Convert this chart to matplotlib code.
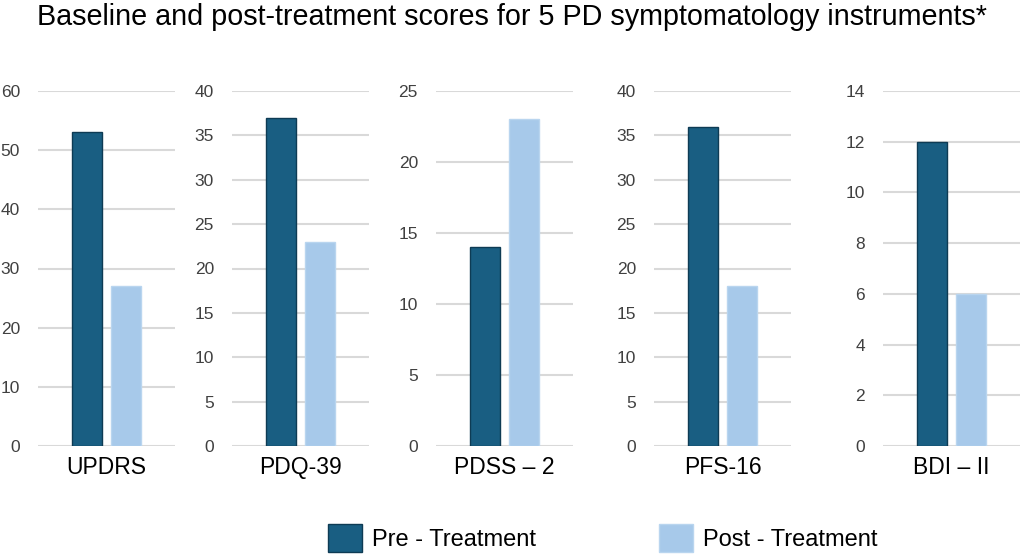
import matplotlib
matplotlib.use("Agg")
import matplotlib.pyplot as plt
from matplotlib.patches import Patch

plt.rcParams['font.family'] = ['Liberation Sans', 'DejaVu Sans']

# data
instruments = ["UPDRS", "PDQ-39", "PDSS – 2", "PFS-16", "BDI – II"]
pre_scores = [53, 37, 14, 36, 12]
post_scores = [27, 23, 23, 18, 6]
y_max = [60, 40, 25, 40, 14]
y_step = [10, 5, 5, 5, 2]
series_names = ["Pre - Treatment", "Post - Treatment"]

dark = "#195e82"
dark_edge = "#0e3b54"
light = "#a7c9ea"
light_edge = "#b9d5ef"

W, H = 1024, 559
fig = plt.figure(figsize=(W / 100, H / 100), dpi=100)

# axes placement in pixels (left edge of gridlines, width)
lefts = [38, 232, 436, 654, 883]
ax_w = 137
top_px, zero_px = 91, 446

for i, name in enumerate(instruments):
    ax = fig.add_axes([lefts[i] / W, (H - zero_px) / H, ax_w / W, (zero_px - top_px) / H])
    ax.bar(0, pre_scores[i], width=0.78, color=dark, edgecolor=dark_edge, linewidth=1, zorder=3)
    ax.bar(1, post_scores[i], width=0.78, color=light, edgecolor=light_edge, linewidth=1, zorder=3)
    ax.set_xlim(-1.25, 2.25)
    ax.set_ylim(0, y_max[i])
    ax.set_yticks(range(0, y_max[i] + 1, y_step[i]))
    ax.set_xticks([0.5])
    ax.set_xticklabels([name], fontsize=16.5, color="black")
    ax.tick_params(axis="y", length=0, pad=13, labelsize=12.5, labelcolor="#404040")
    ax.tick_params(axis="x", length=0, pad=7)
    ax.yaxis.grid(True, color="#d9d9d9", linewidth=1.5, zorder=0)
    ax.set_axisbelow(True)
    for s in ax.spines.values():
        s.set_visible(False)

fig.text(0.5, 1 - 3 / H, "Baseline and post-treatment scores for 5 PD symptomatology instruments*",
         ha="center", va="top", fontsize=20.7, color="black")

handles = [Patch(facecolor=dark, edgecolor=dark_edge, label=series_names[0]),
           Patch(facecolor=light, edgecolor=light_edge, label=series_names[1])]
fig.legend(handles=handles, loc="center", bbox_to_anchor=(603 / W, 1 - 538 / H), ncol=2,
           frameon=False, fontsize=17, handlelength=1.44, handleheight=1.44,
           handletextpad=0.42, columnspacing=5.2)

fig.savefig("out.png", dpi=100)
